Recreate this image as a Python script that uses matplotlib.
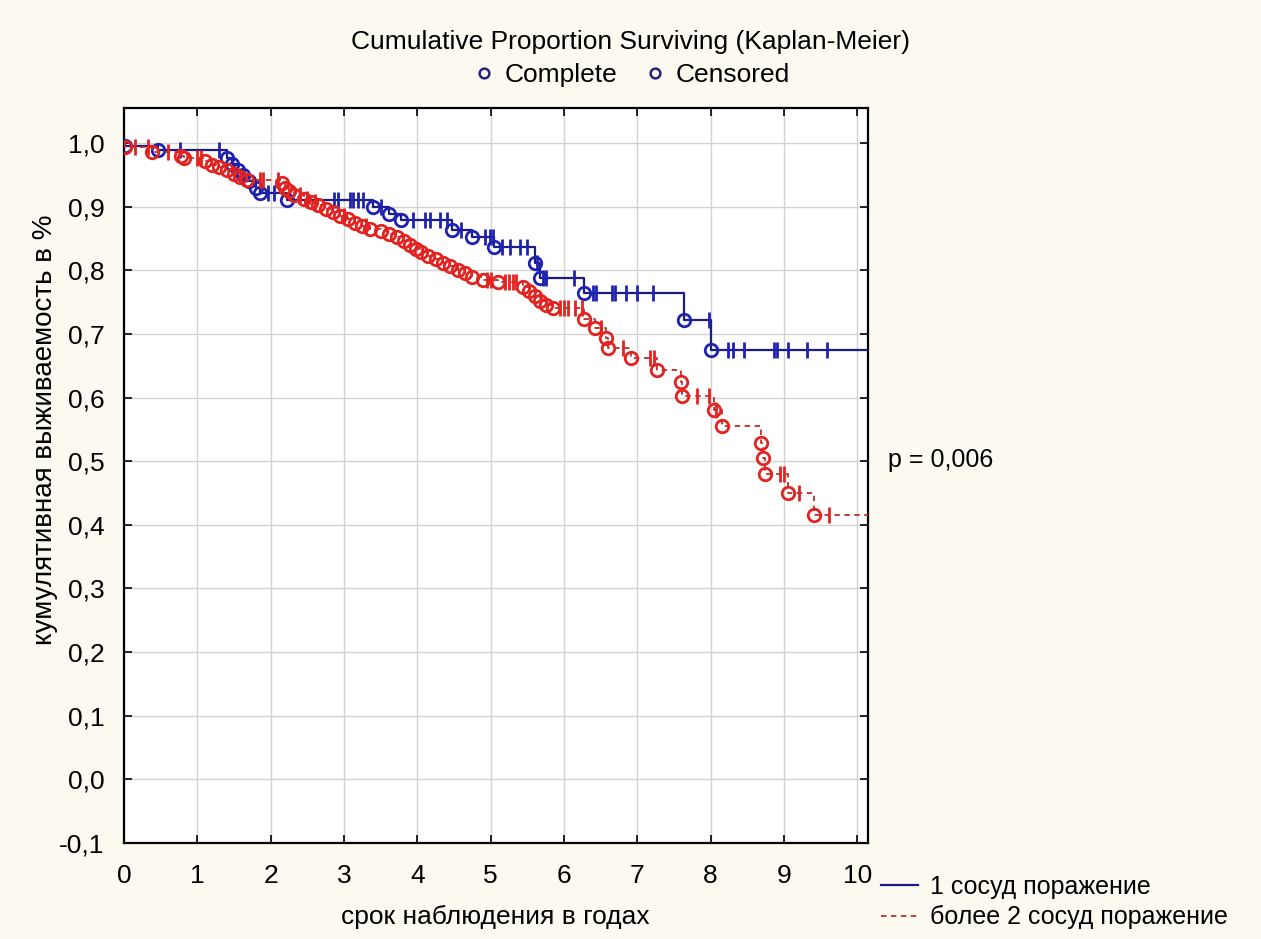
import numpy as np
import matplotlib
matplotlib.use("Agg")
import matplotlib.pyplot as plt
from matplotlib.lines import Line2D
from matplotlib.ticker import FuncFormatter

plt.rcParams["font.family"] = ["Liberation Sans", "DejaVu Sans"]

# данные
blue_event_t = [0.02, 0.46, 1.40, 1.48, 1.55, 1.62, 1.70, 1.80, 1.85, 2.22,
                3.39, 3.62, 3.78, 4.48, 4.75, 5.05, 5.60, 5.67, 6.28, 7.64, 8.01]
blue_event_s = [0.995, 0.989, 0.976, 0.967, 0.958, 0.949, 0.940, 0.930, 0.922, 0.910,
                0.899, 0.889, 0.879, 0.864, 0.852, 0.836, 0.812, 0.788, 0.764, 0.722, 0.675]
blue_cens_t = [0.76, 1.30, 1.96, 2.05, 2.50, 2.87, 2.92, 3.08, 3.12, 3.19, 3.26,
               3.50, 3.94, 4.10, 4.17, 4.31, 4.40, 4.60, 4.92, 4.99, 5.03,
               5.16, 5.26, 5.40, 5.49, 5.63, 5.71, 5.76, 6.14, 6.39, 6.44, 6.65,
               6.69, 6.85, 6.99, 7.21, 7.98, 8.24, 8.31, 8.45, 8.86, 8.91, 9.05,
               9.32, 9.59]

red_event_t = [0.02, 0.38, 0.78, 0.82, 1.10, 1.20, 1.30, 1.40, 1.50, 1.58, 1.68,
               2.15, 2.20, 2.25, 2.32, 2.45, 2.55, 2.65, 2.75, 2.85, 2.95, 3.05,
               3.15, 3.25, 3.35, 3.50, 3.62, 3.72, 3.82, 3.90, 3.98, 4.05, 4.15,
               4.25, 4.35, 4.45, 4.55, 4.65, 4.75, 4.90, 5.10, 5.44, 5.52, 5.60,
               5.68, 5.76, 5.85, 6.28, 6.42, 6.58, 6.60, 6.92, 7.27, 7.59, 7.61,
               8.05, 8.15, 8.69, 8.71, 8.74, 9.06, 9.41]
red_event_s = [0.993, 0.986, 0.980, 0.976, 0.971, 0.966, 0.962, 0.958, 0.952, 0.947, 0.942,
               0.937, 0.930, 0.924, 0.918, 0.912, 0.907, 0.902, 0.897, 0.892, 0.886, 0.880,
               0.875, 0.870, 0.865, 0.861, 0.857, 0.852, 0.846, 0.840, 0.834, 0.829, 0.823,
               0.818, 0.812, 0.806, 0.800, 0.795, 0.790, 0.785, 0.781, 0.774, 0.768, 0.760,
               0.752, 0.745, 0.740, 0.724, 0.709, 0.693, 0.678, 0.662, 0.644, 0.624, 0.602,
               0.580, 0.555, 0.528, 0.505, 0.480, 0.450, 0.415]
red_cens_t = [0.15, 0.33, 0.60, 1.00, 1.05, 1.85, 1.90, 2.10, 2.40, 2.50, 2.60,
              3.00, 3.30, 4.95, 5.00, 5.20, 5.25, 5.30, 5.35, 5.95, 6.00, 6.05,
              6.15, 6.25, 6.50, 6.80, 7.17, 7.23, 7.81, 7.98, 8.07, 8.94, 9.00,
              9.21, 9.62]

x_ticks = list(range(0, 11))
y_ticks = [round(-0.1 + 0.1 * i, 1) for i in range(12)]

BLUE_LINE = "#1b1b86"
BLUE_MARK = "#1f22b0"
RED_LINE = "#b8302c"
RED_MARK = "#e2231f"
BG = "#fcf9f1"
X_END = 10.14


def step_levels(ev_t, ev_s, cens_t):
    levels = np.array([1.0] + list(ev_s))
    idx = np.searchsorted(np.array(ev_t), np.array(cens_t), side="right")
    return levels[idx]


fig = plt.figure(figsize=(12.61, 9.39), dpi=100, facecolor=BG)
ax = fig.add_axes([0.0983, 0.1022, 0.5897, 0.7828])
ax.set_facecolor("white")

# 1 сосуд
bt = [0.0] + blue_event_t + [X_END + 1]
bs = [1.0] + blue_event_s + [blue_event_s[-1]]
ax.step(bt, bs, where="post", color=BLUE_LINE, lw=1.6, zorder=3)
ax.plot(blue_event_t, blue_event_s, "o", ms=9, mfc="none", mec=BLUE_MARK, mew=2.0, zorder=4)
ax.plot(blue_cens_t, step_levels(blue_event_t, blue_event_s, blue_cens_t), "|",
        ms=12, mec=BLUE_MARK, mew=2.0, zorder=4)

# более 2 сосуд
rt = [0.0] + red_event_t + [X_END + 1]
rs = [1.0] + red_event_s + [red_event_s[-1]]
ax.step(rt, rs, where="post", color=RED_LINE, lw=1.3, ls=(0, (3, 2.5)), zorder=5)
ax.plot(red_event_t, red_event_s, "o", ms=9, mfc="none", mec=RED_MARK, mew=2.0, zorder=6)
ax.plot(red_cens_t, step_levels(red_event_t, red_event_s, red_cens_t), "|",
        ms=12, mec=RED_MARK, mew=2.0, zorder=6)

ax.set_xlim(0, X_END)
ax.set_ylim(-0.1, 1.055)
ax.set_xticks(x_ticks)
ax.set_yticks(y_ticks)
ax.yaxis.set_major_formatter(FuncFormatter(lambda v, p: f"{v:.1f}".replace(".", ",")))
ax.grid(True, color="#d2d2d2", lw=1.0, zorder=0)
ax.tick_params(direction="in", length=6, width=1.2, top=True, right=True,
               labelsize=19, colors="black")
ax.tick_params(axis="x", pad=15)
ax.tick_params(axis="y", pad=14)
for sp in ax.spines.values():
    sp.set_linewidth(1.6)

ax.set_xlabel("срок наблюдения в годах", fontsize=19, labelpad=12)
fig.text(0.036, 0.542, "кумулятивная выживаемость в %", rotation=90,
         ha="center", va="center", fontsize=20)

fig.text(0.5, 0.955, "Cumulative Proportion Surviving (Kaplan-Meier)",
         ha="center", va="center", fontsize=19)

top_handles = [
    Line2D([], [], ls="none", marker="o", ms=7, mfc="none", mec="#23237a", mew=1.8),
    Line2D([], [], ls="none", marker="o", ms=7, mfc="none", mec="#23237a", mew=1.8),
]
fig.legend(top_handles, ["Complete", "Censored"], loc="center", ncol=2,
           bbox_to_anchor=(0.5, 0.92), frameon=False, fontsize=19,
           handletextpad=0.3, columnspacing=0.9, handlelength=1.0)

bottom_handles = [
    Line2D([], [], color=BLUE_LINE, lw=1.6),
    Line2D([], [], color=RED_LINE, lw=1.3, ls=(0, (3, 2.5))),
]
fig.legend(bottom_handles, ["1 сосуд поражение", "более 2 сосуд поражение"],
           loc="upper left", bbox_to_anchor=(0.699, 0.068), frameon=False,
           fontsize=18, handlelength=1.45, handletextpad=0.5, labelspacing=0.25,
           borderaxespad=0, borderpad=0)

fig.text(0.704, 0.51, "p = 0,006", ha="left", va="center", fontsize=18)

fig.savefig("out.png", dpi=100, facecolor=BG)
